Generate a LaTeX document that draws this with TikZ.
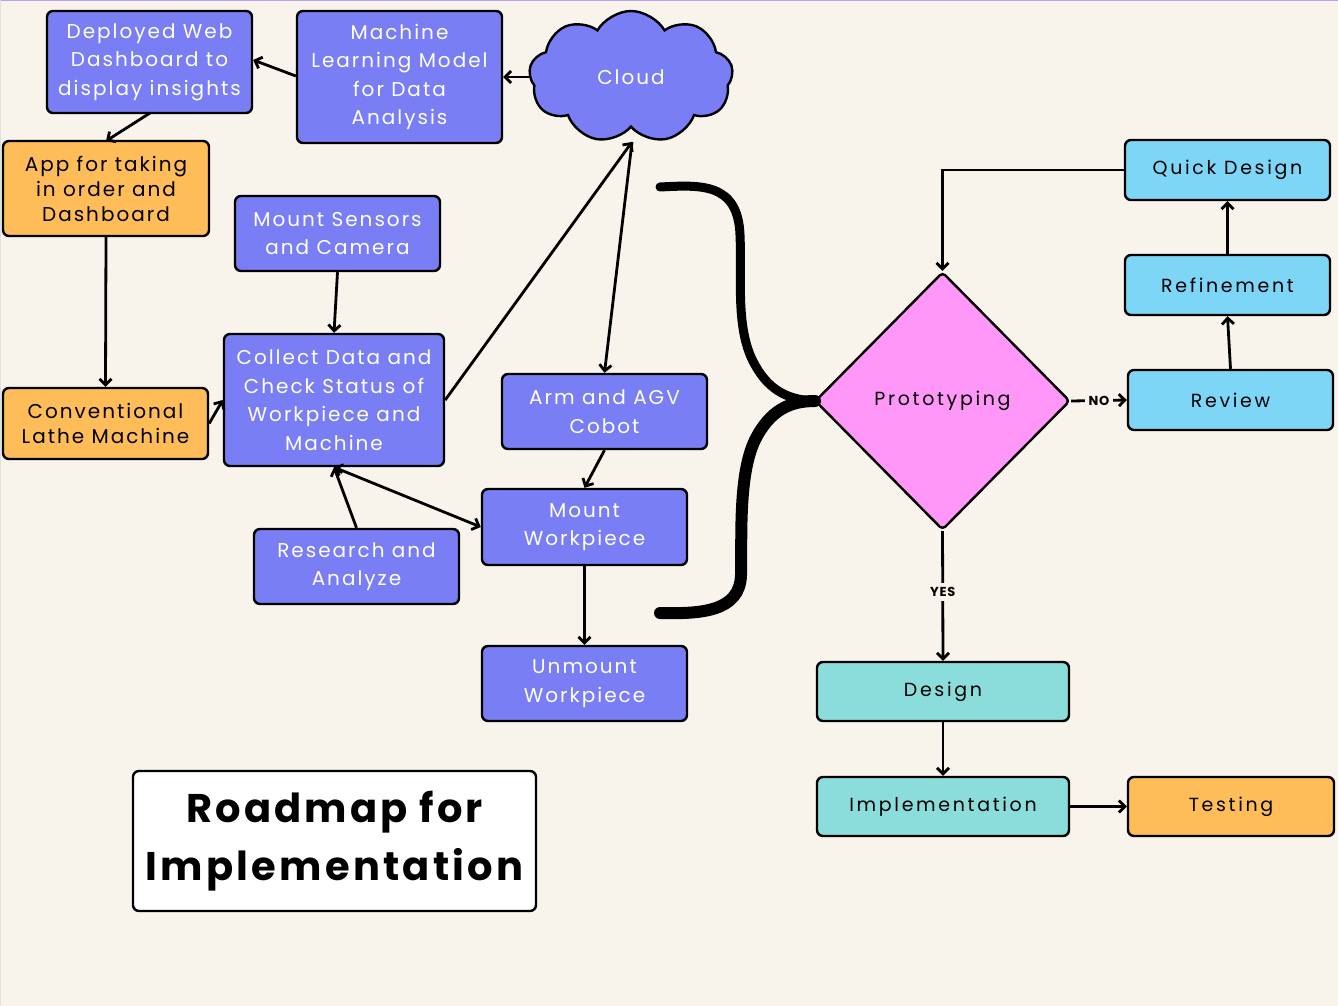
\documentclass[tikz,border=0pt]{standalone}
\usepackage{fontspec}
\setmainfont{Poppins}
\newfontfamily\lfont[LetterSpace=10]{Poppins}
\newfontfamily\rfont[LetterSpace=14]{Poppins}
\newfontfamily\tfont[LetterSpace=8]{Poppins Bold}
\newfontfamily\labfont[LetterSpace=6]{Poppins Bold}
\usetikzlibrary{shapes.geometric,shapes.symbols,arrows.meta}
\definecolor{bg}{HTML}{F8F4EC}
\definecolor{purp}{HTML}{7A7EF4}
\definecolor{orng}{HTML}{FFBD59}
\definecolor{pink}{HTML}{FF97F8}
\definecolor{lblue}{HTML}{7DD6F6}
\definecolor{teal}{HTML}{8BDDDB}
\definecolor{edge}{HTML}{B9A0F2}
\tikzset{
  box/.style={draw=black, line width=2.4pt, rounded corners=6pt, inner sep=0pt, align=center},
  pbox/.style={box, fill=purp, text=white, font=\lfont\fontsize{20}{28.5}\selectfont},
  obox/.style={box, fill=orng, text=black, font=\lfont\fontsize{20}{25}\selectfont},
  bbox/.style={box, fill=lblue, text=black, font=\rfont\fontsize{19}{25}\selectfont},
  tbox/.style={box, fill=teal, text=black, font=\rfont\fontsize{19}{25}\selectfont},
  arr/.style={line width=2.8pt, -{Straight Barb[length=6pt,width=12pt]}},
  darr/.style={line width=2.8pt, {Straight Barb[length=6pt,width=12pt]}-{Straight Barb[length=6pt,width=12pt]}},
  lab/.style={fill=bg, font=\labfont\fontsize{13}{13}\selectfont, inner sep=4pt}
}
\begin{document}
\begin{tikzpicture}[x=1pt,y=-1pt]
\useasboundingbox (0,0) rectangle (1338,1006);
\fill[bg] (0,0) rectangle (1338,1006);
\draw[edge, line width=1.5pt] (0,0.5) -- (1338,0.5);
\draw[black!12, line width=1pt] (0.5,0) -- (0.5,1006);

% left nodes
\node[pbox, minimum width=205pt, minimum height=102pt] (web) at (149.5,62) {Deployed Web\\Dashboard to\\display insights};
\node[pbox, minimum width=205pt, minimum height=132pt] (ml) at (399.5,77) {Machine\\Learning Model\\for Data\\Analysis};
\node[cloud, cloud puffs=9, cloud puff arc=120, aspect=1.55, draw=black, line width=2.4pt, fill=purp, text=white, font=\lfont\fontsize{20}{25}\selectfont, minimum width=204pt, minimum height=132pt, inner sep=0pt] (cloud) at (631,77) {Cloud};
\node[obox, minimum width=206pt, minimum height=95pt] (app) at (106,188.5) {App for taking\\in order and\\Dashboard};
\node[pbox, minimum width=205pt, minimum height=75pt] (sens) at (337.5,233.5) {Mount Sensors\\and Camera};
\node[pbox, minimum width=220pt, minimum height=132pt] (coll) at (334,400) {Collect Data and\\Check Status of\\Workpiece and\\Machine};
\node[obox, minimum width=205pt, minimum height=71pt] (lathe) at (105.5,423.5) {Conventional\\Lathe Machine};
\node[pbox, minimum width=205pt, minimum height=75pt] (arm) at (604.5,411.5) {Arm and AGV\\Cobot};
\node[pbox, minimum width=205pt, minimum height=76pt] (mount) at (584.5,527) {Mount\\Workpiece};
\node[pbox, minimum width=205pt, minimum height=75pt] (res) at (356.5,566.5) {Research and\\Analyze};
\node[pbox, minimum width=205pt, minimum height=75pt] (unm) at (584.5,683.5) {Unmount\\Workpiece};
\node[box, fill=white, minimum width=403pt, minimum height=140pt, font=\tfont\fontsize{40}{58}\selectfont] (title) at (334.5,841) {Roadmap for\\Implementation};

% right nodes
\node[diamond, draw=black, line width=2.4pt, fill=pink, rounded corners=4pt, minimum width=255pt, minimum height=258pt, inner sep=0pt, font=\rfont\fontsize{19}{25}\selectfont] (proto) at (942.5,401) {Prototyping};
\node[bbox, minimum width=205pt, minimum height=60pt] (quick) at (1227.5,170) {Quick Design};
\node[bbox, minimum width=205pt, minimum height=60pt] (ref) at (1227.5,285) {Refinement};
\node[bbox, minimum width=205pt, minimum height=60pt] (rev) at (1230.5,400) {Review};
\node[tbox, minimum width=252pt, minimum height=59pt] (des) at (943,691.5) {Design};
\node[tbox, minimum width=252pt, minimum height=59pt] (impl) at (943,806.5) {Implementation};
\node[obox, font=\rfont\fontsize{19}{25}\selectfont, minimum width=206pt, minimum height=59pt] (test) at (1231,806.5) {Testing};

\coordinate (cb) at (632,142);

% left connectors
\draw[arr] (ml.west |- 0,76) -- (web.east |- 0,60);
\draw[arr] (cloud.west) -- (ml.east |- cloud.west);
\draw[arr] (150,113) -- (106,141);
\draw[arr] (app.south) -- (lathe.north);
\draw[arr] (lathe.east) -- (coll.west);
\draw[arr] (sens.south) -- (coll.north);
\draw[arr] (coll.east) -- (cb);
\draw[arr] (cb) -- (arm.north);
\draw[arr] (arm.south) -- (mount.north);
\draw[arr] (res.north) -- (coll.south);
\draw[darr] (coll.south) -- (mount.west);
\draw[arr] (mount.south) -- (unm.north);

% brace
\draw[line width=9pt, line cap=round] (660,187) .. controls (700,185) and (738,182) .. (740,235)
  .. controls (742,280) and (735,330) .. (755,365) .. controls (770,392) and (790,400) .. (815,401);
\draw[line width=12pt, line cap=round] (815,401) .. controls (790,401) and (770,410) .. (755,440)
  .. controls (738,475) and (742,540) .. (741,575) .. controls (740,612) and (700,614) .. (660,613);

% right connectors
\draw[arr] (quick.west) -| (proto.north);
\draw[arr] (proto.east) -- node[lab] {NO} (rev.west);
\draw[arr] (rev.north) -- (ref.south);
\draw[arr] (ref.north) -- (quick.south);
\draw[arr] (proto.south) -- node[lab, pos=0.47] {YES} (des.north);
\draw[arr] (des.south) -- (impl.north);
\draw[arr] (impl.east) -- (test.west);
\end{tikzpicture}
\end{document}
